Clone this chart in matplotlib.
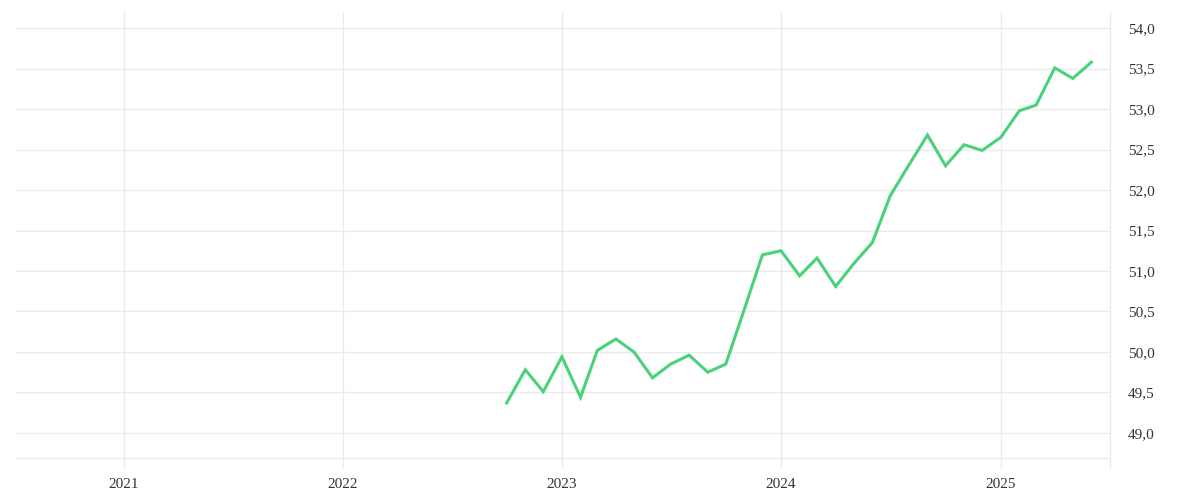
import matplotlib
matplotlib.use("Agg")
import matplotlib.pyplot as plt
import matplotlib.dates as mdates
from matplotlib.ticker import FuncFormatter, FixedLocator
from matplotlib.lines import Line2D
import pandas as pd
import numpy as np

dates = pd.date_range("2022-10-01", "2025-06-01", freq="MS")
values = [49.37, 49.78, 49.51, 49.94, 49.44, 50.02, 50.16, 50.00, 49.68, 49.85,
          49.96, 49.75, 49.85, 50.53, 51.20, 51.25, 50.94, 51.16, 50.81, 51.09,
          51.35, 51.93, 52.31, 52.68, 52.30, 52.56, 52.49, 52.65, 52.98, 53.05,
          53.51, 53.38, 53.58]
year_ticks = ["2021", "2022", "2023", "2024", "2025"]
y_ticks = [49.0, 49.5, 50.0, 50.5, 51.0, 51.5, 52.0, 52.5, 53.0, 53.5, 54.0]

plt.rcParams['font.family'] = ['Liberation Serif', 'DejaVu Serif']
GRID = '#ebebeb'
TEXT = '#333333'

W, H = 1200, 500
fig = plt.figure(figsize=(12, 5), dpi=100)
left, right, top, bottom = 15, 1110, 12, 458
ax = fig.add_axes([left / W, 1 - bottom / H, (right - left) / W, (bottom - top) / H])

ax.plot(dates, values, color='#4ad27a', lw=2.2, solid_joinstyle='miter', zorder=3)

ax.set_xlim(pd.Timestamp("2020-07-04"), pd.Timestamp("2025-07-02"))
ax.set_ylim(48.69, 54.2)

ax.xaxis.set_major_locator(FixedLocator([mdates.date2num(pd.Timestamp(f"{y}-01-01")) for y in year_ticks]))
ax.xaxis.set_major_formatter(FuncFormatter(lambda v, p: mdates.num2date(v).strftime("%Y")))
ax.yaxis.set_major_locator(FixedLocator(y_ticks))
ax.yaxis.set_major_formatter(FuncFormatter(lambda v, p: f"{v:.1f}".replace('.', ',')))
ax.yaxis.tick_right()

ax.grid(True, color=GRID, lw=1)
ax.set_axisbelow(True)
for s in ['top', 'left', 'right']:
    ax.spines[s].set_visible(False)
ax.spines['bottom'].set_color(GRID)
ax.spines['bottom'].set_linewidth(1)

ax.tick_params(axis='x', length=7.2, width=1, color=GRID, labelsize=11, labelcolor=TEXT, pad=7)
ax.tick_params(axis='y', length=0, labelsize=11, labelcolor=TEXT, pad=13)

# right vertical axis line extending below like the ticks
ext = 10 / (bottom - top)
ax.add_line(Line2D([1, 1], [-ext, 1], transform=ax.transAxes, color=GRID, lw=1, clip_on=False))

fig.savefig("out.png", dpi=100, facecolor='white')
